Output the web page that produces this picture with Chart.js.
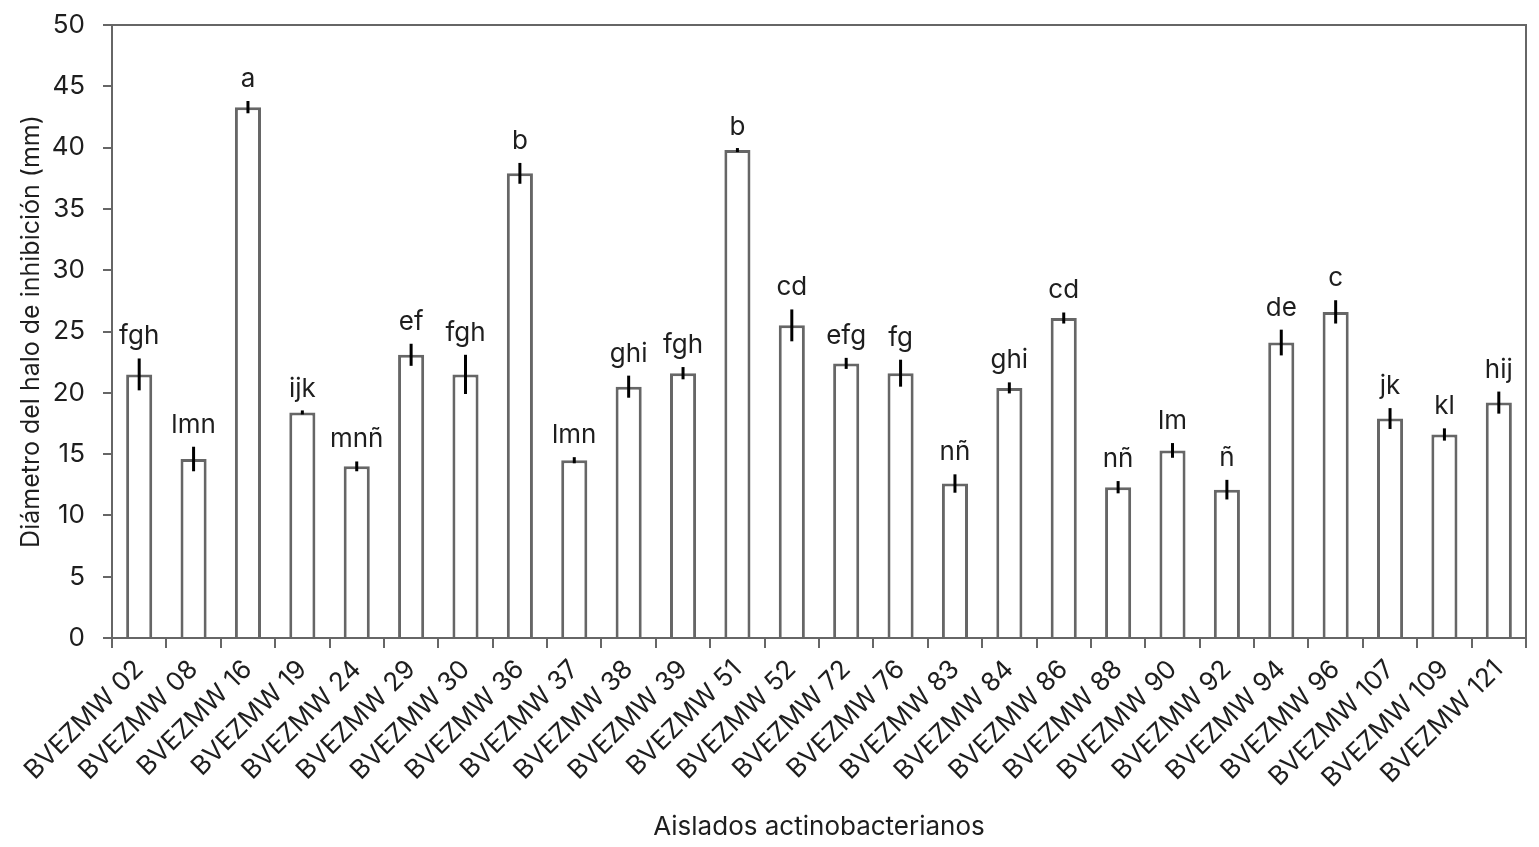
<!DOCTYPE html>
<html>
<head>
<meta charset="utf-8">
<script src="https://cdn.jsdelivr.net/npm/chart.js@4"></script>
<style>
  body { margin: 0; background: #fff; }
  #wrap { width: 1539px; height: 847px; }
</style>
</head>
<body>
<div id="wrap"><canvas id="chart"></canvas></div>
<script>
const isolates = ['BVEZMW 02', 'BVEZMW 08', 'BVEZMW 16', 'BVEZMW 19', 'BVEZMW 24', 'BVEZMW 29',
  'BVEZMW 30', 'BVEZMW 36', 'BVEZMW 37', 'BVEZMW 38', 'BVEZMW 39', 'BVEZMW 51', 'BVEZMW 52',
  'BVEZMW 72', 'BVEZMW 76', 'BVEZMW 83', 'BVEZMW 84', 'BVEZMW 86', 'BVEZMW 88', 'BVEZMW 90',
  'BVEZMW 92', 'BVEZMW 94', 'BVEZMW 96', 'BVEZMW 107', 'BVEZMW 109', 'BVEZMW 121'];
const halo = [21.5, 14.6, 43.3, 18.4, 14.0, 23.1, 21.5, 37.9, 14.5, 20.5, 21.6, 39.8, 25.5,
  22.4, 21.6, 12.6, 20.4, 26.1, 12.3, 15.3, 12.1, 24.1, 26.6, 17.9, 16.6, 19.2];
const haloErr = [1.3, 1.0, 0.5, 0.1, 0.4, 0.9, 1.6, 0.85, 0.25, 0.9, 0.5, 0.1, 1.3,
  0.45, 1.1, 0.75, 0.45, 0.45, 0.5, 0.6, 0.8, 1.05, 0.95, 0.85, 0.5, 0.9];
const groups = ['fgh', 'lmn', 'a', 'ijk', 'mnñ', 'ef', 'fgh', 'b', 'lmn', 'ghi', 'fgh', 'b', 'cd',
  'efg', 'fg', 'nñ', 'ghi', 'cd', 'nñ', 'lm', 'ñ', 'de', 'c', 'jk', 'kl', 'hij'];

const font = 'Inter, "Noto Sans", sans-serif';
const textColor = '#1e1e1e';
const axisColor = '#666';

// error bars + letters of significance
const annotate = {
  id: 'annotate',
  afterDatasetsDraw(chart) {
    const { ctx, scales: { x, y } } = chart;
    ctx.save();
    ctx.strokeStyle = '#000';
    ctx.lineWidth = 3;
    ctx.fillStyle = textColor;
    ctx.font = '26px ' + font;
    ctx.textAlign = 'center';
    ctx.textBaseline = 'alphabetic';
    halo.forEach((v, i) => {
      const px = x.getPixelForValue(i);
      const top = y.getPixelForValue(v + haloErr[i]);
      const bot = y.getPixelForValue(v - haloErr[i]);
      ctx.beginPath();
      ctx.moveTo(px, Math.min(top, y.getPixelForValue(v) - 2));
      ctx.lineTo(px, Math.max(bot, y.getPixelForValue(v) + 2));
      ctx.stroke();
      ctx.fillText(groups[i], px, top - 14);
    });
    ctx.restore();
  }
};

// box around the plot area
const frame = {
  id: 'frame',
  afterDraw(chart) {
    const { ctx, chartArea: a } = chart;
    ctx.save();
    ctx.strokeStyle = axisColor;
    ctx.lineWidth = 2;
    ctx.strokeRect(a.left, a.top, a.right - a.left, a.bottom - a.top);
    ctx.restore();
  }
};

new Chart(document.getElementById('chart'), {
  type: 'bar',
  data: {
    labels: isolates,
    datasets: [{
      data: halo,
      backgroundColor: '#fff',
      borderColor: '#666',
      borderWidth: 3,
      categoryPercentage: 1,
      barPercentage: 0.48
    }]
  },
  options: {
    responsive: true,
    maintainAspectRatio: false,
    animation: false,
    layout: { padding: { left: 0, right: 13, top: 25, bottom: 0 } },
    plugins: { legend: { display: false }, tooltip: { enabled: false } },
    scales: {
      x: {
        afterFit(scale) { scale.height = 209; },
        grid: { drawOnChartArea: false, tickLength: 10, color: axisColor, lineWidth: 2 },
        border: { color: axisColor, width: 2 },
        ticks: { maxRotation: 45, minRotation: 45, color: textColor, font: { family: font, size: 26 }, padding: 6 },
        title: { display: true, text: 'Aislados actinobacterianos', color: textColor, font: { family: font, size: 26 }, padding: { top: 0, bottom: 4 } }
      },
      y: {
        min: 0,
        max: 50,
        afterFit(scale) { scale.width = 112; scale.paddingTop = 0; scale.paddingBottom = 0; },
        grid: { drawOnChartArea: false, tickLength: 9, color: axisColor, lineWidth: 2 },
        border: { color: axisColor, width: 2 },
        ticks: { stepSize: 5, color: textColor, font: { family: font, size: 26 }, padding: 18 },
        title: { display: true, text: 'Diámetro del halo de inhibición (mm)', color: textColor, font: { family: font, size: 25 }, padding: { top: 16, bottom: 0 } }
      }
    }
  },
  plugins: [annotate, frame]
});
</script>
</body>
</html>
